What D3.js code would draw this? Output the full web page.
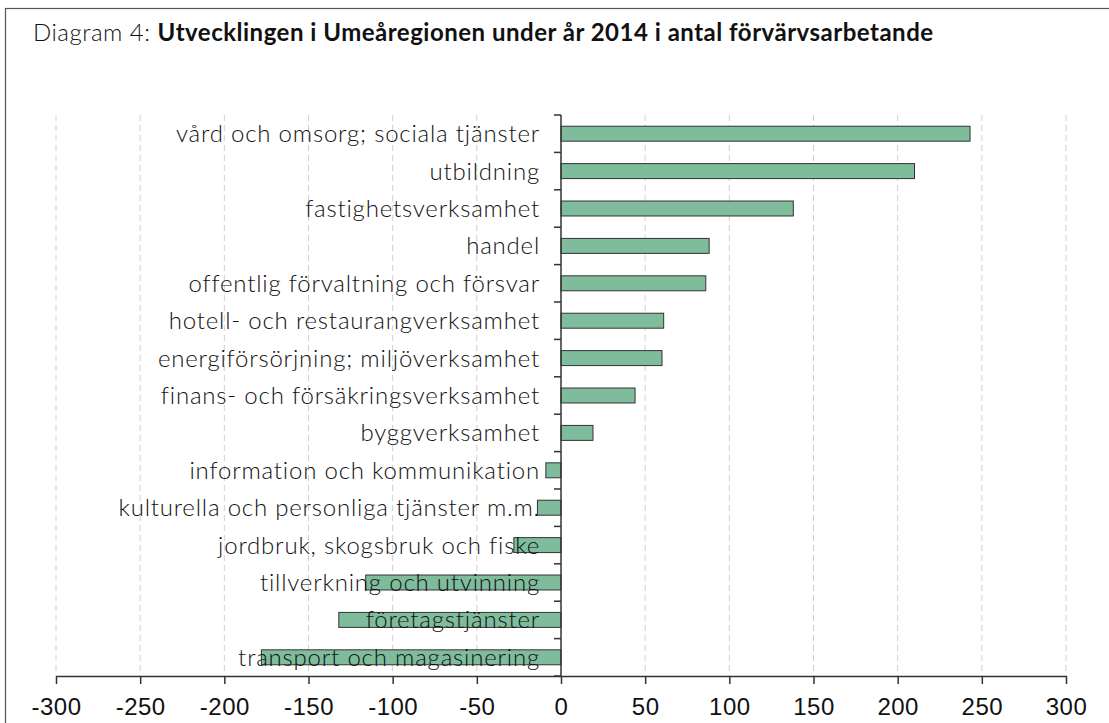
<!DOCTYPE html>
<html lang="sv">
<head>
<meta charset="UTF-8">
<title>Diagram 4</title>
<script src="https://d3js.org/d3.v7.min.js"></script>
<style>
  body { margin: 0; background: #fff; }
  svg { display: block; font-family: Lato, "Open Sans", sans-serif; }
  .grid line { stroke: #d0d0d0; stroke-dasharray: 6,4; }
  .cat { font-size: 24px; font-weight: 300; letter-spacing: 0.8px; fill: #111; }
  .tick-label { font-size: 24px; font-weight: 300; letter-spacing: 0.5px; fill: #111; }
</style>
</head>
<body>
<div id="chart"></div>
<script>
// branscher, uppifrån och ned
const categories = [
  "vård och omsorg; sociala tjänster",
  "utbildning",
  "fastighetsverksamhet",
  "handel",
  "offentlig förvaltning och försvar",
  "hotell- och restaurangverksamhet",
  "energiförsörjning; miljöverksamhet",
  "finans- och försäkringsverksamhet",
  "byggverksamhet",
  "information och kommunikation",
  "kulturella och personliga tjänster m.m.",
  "jordbruk, skogsbruk och fiske",
  "tillverkning och utvinning",
  "företagstjänster",
  "transport och magasinering"
];
const values = [243, 210, 138, 88, 86, 61, 60, 44, 19, -9, -14, -28, -116, -132, -178];
const xTicks = [-300, -250, -200, -150, -100, -50, 0, 50, 100, 150, 200, 250, 300];

const width = 1109, height = 723;
const svg = d3.select("#chart").append("svg")
  .attr("width", width).attr("height", height);

// ram runt diagrammet
svg.append("rect")
  .attr("x", 5.5).attr("y", 8.5)
  .attr("width", width + 10).attr("height", height + 10)
  .attr("fill", "none").attr("stroke", "#555").attr("stroke-width", 1.2);

// rubrik
const title = svg.append("text").attr("x", 33).attr("y", 41)
  .attr("font-size", 24).attr("fill", "#111").attr("letter-spacing", "0.5px");
title.append("tspan").attr("font-weight", 300).text("Diagram 4: ");
title.append("tspan").attr("font-weight", "bold")
  .text("Utvecklingen i Umeåregionen under år 2014 i antal förvärvsarbetande");

const x = d3.scaleLinear().domain([-300, 300]).range([56, 1066]);
const y = d3.scaleBand().domain(categories).range([115, 676]).padding(0);
const barH = y.bandwidth() * 0.4;

// streckade stödlinjer
svg.append("g").attr("class", "grid")
  .selectAll("line")
  .data(xTicks.filter(d => d !== 0))
  .enter().append("line")
  .attr("x1", d => x(d)).attr("x2", d => x(d))
  .attr("y1", 115).attr("y2", 676);

// staplar
svg.append("g")
  .selectAll("rect")
  .data(categories)
  .enter().append("rect")
  .attr("x", (d, i) => x(Math.min(0, values[i])))
  .attr("width", (d, i) => Math.abs(x(values[i]) - x(0)))
  .attr("y", d => y(d) + (y.bandwidth() - barH) / 2)
  .attr("height", barH)
  .attr("fill", "#7fbc9c")
  .attr("stroke", "#333")
  .attr("stroke-width", 1);

// x-axel
const xAxis = svg.append("g")
  .attr("transform", "translate(0,676)")
  .call(d3.axisBottom(x).tickValues(xTicks).tickFormat(d => String(d))
    .tickSize(8).tickSizeOuter(0).tickPadding(14));
xAxis.select(".domain").attr("stroke", "#333").attr("stroke-width", 1.5);
xAxis.selectAll(".tick line").attr("stroke", "#333").attr("stroke-width", 1.5);
xAxis.selectAll(".tick text").attr("class", "tick-label")
  .attr("font-family", null).attr("font-size", null).attr("fill", null).attr("dy", "0.71em");

// y-axel med streck mellan kategorierna
const yg = svg.append("g");
yg.append("line")
  .attr("x1", x(0)).attr("x2", x(0)).attr("y1", 115).attr("y2", 676)
  .attr("stroke", "#333").attr("stroke-width", 1.5);
const bounds = categories.map(c => y(c)).concat([676]);
yg.selectAll("line.yt").data(bounds).enter().append("line")
  .attr("class", "yt")
  .attr("x1", x(0) - 7).attr("x2", x(0))
  .attr("y1", d => d).attr("y2", d => d)
  .attr("stroke", "#333").attr("stroke-width", 1.5);

// kategorinamn
svg.append("g")
  .selectAll("text")
  .data(categories)
  .enter().append("text")
  .attr("class", "cat")
  .attr("x", 540)
  .attr("y", d => y(d) + y.bandwidth() / 2)
  .attr("dy", "0.35em")
  .attr("text-anchor", "end")
  .text(d => d);
</script>
</body>
</html>
